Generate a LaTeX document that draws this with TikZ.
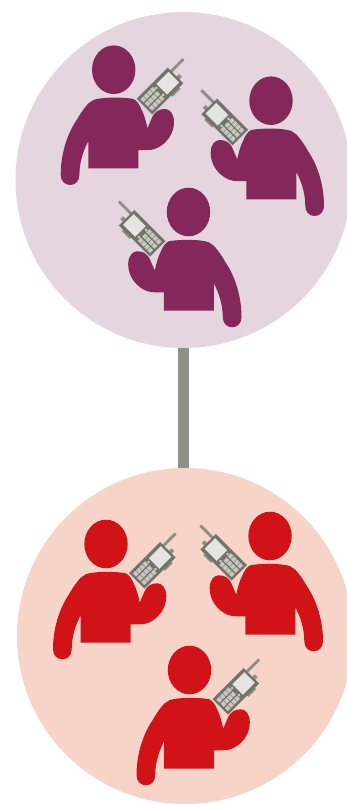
\documentclass[tikz,border=0pt]{standalone}
\usetikzlibrary{positioning}
\definecolor{plumbg}{HTML}{E5D5DF}
\definecolor{plum}{HTML}{84275A}
\definecolor{redbg}{HTML}{F6D5C8}
\definecolor{radiored}{HTML}{D11317}
\definecolor{linkgrey}{HTML}{8F8F8B}
\definecolor{radiobody}{HTML}{73736A}
\definecolor{radioaerial}{HTML}{8E8E84}
\definecolor{radioscreen}{HTML}{E4E4E2}
\definecolor{radiokey}{HTML}{C8C8C2}
\tikzset{
  group/.style={circle, minimum size=336pt, inner sep=0pt, outer sep=0pt},
  pics/person/.style={code={
    \fill[#1] (0,0) ellipse [x radius=21.7, y radius=24.3];
    \fill[#1] (24.7,98.7) -- (24.7,80.3) -- (33,80.3)
      .. controls (45,81.5) and (60.5,69) .. (60.3,52)
      .. controls (60.3,44) and (56,39.3) .. (51.3,39.3)
      .. controls (46,39.3) and (41,41) .. (38,48.7)
      -- (33.7,58.7)
      .. controls (32,50) and (30,44) .. (28,40.3)
      .. controls (26,35) and (23,30.5) .. (19.7,29.3)
      .. controls (12,27.5) and (-12,27) .. (-20.3,30.3)
      -- (-25.3,33.7)
      .. controls (-31,40) and (-34,45) .. (-37,50.3)
      .. controls (-47,65) and (-53,85) .. (-53,105.3)
      .. controls (-53,111) and (-49,115.3) .. (-43.7,115.3)
      .. controls (-38,115.3) and (-34.3,111) .. (-34.3,105.3)
      .. controls (-34.3,92) and (-30,80) .. (-25.3,71.3)
      -- (-25.3,98.7) -- cycle;
    \begin{scope}[shift={(46.3,21.3)}, rotate=45]
      \fill[radioaerial] (21,-7.4) rectangle (39,-4.6);
      \fill[radioaerial] (21,1.5) rectangle (25.5,5.5);
      \fill[radioaerial] (5,10) rectangle (16,13);
      \fill[radiobody] (-22,-11) rectangle (22,11);
      \fill[radioscreen] (2.5,-7.5) rectangle (19.5,7.5);
      \foreach \a in {-19.5,-15,-10.5,-6} {
        \foreach \b in {-8,-2,4} {
          \fill[radiokey] (\a,\b) rectangle ++(3.8,4.4);
        }
      }
      \fill[radiokey] (-0.5,-5) ellipse [x radius=1.8, y radius=1.4];
      \fill[radiokey] (-0.5,5) ellipse [x radius=1.8, y radius=1.4];
    \end{scope}
  }}
}
\begin{document}
\begin{tikzpicture}[x=1pt, y=-1pt]
\useasboundingbox (0,0) rectangle (346,804);
\node[group, fill=plumbg] (top) at (183.5,180) {};
\node[group, fill=redbg] (bottom) at (185,636) {};
\draw[linkgrey, line width=11pt] (top.south) -- (top.south |- bottom.north);
% top group
\pic at (113.7,69.7) {person=plum};
\pic[xscale=-1] at (271,100.7) {person=plum};
\pic[xscale=-1] at (188.5,212) {person=plum};
% bottom group
\pic at (106,544) {person=radiored};
\pic[xscale=-1] at (270,536) {person=radiored};
\pic at (189.5,670) {person=radiored};
\end{tikzpicture}
\end{document}
